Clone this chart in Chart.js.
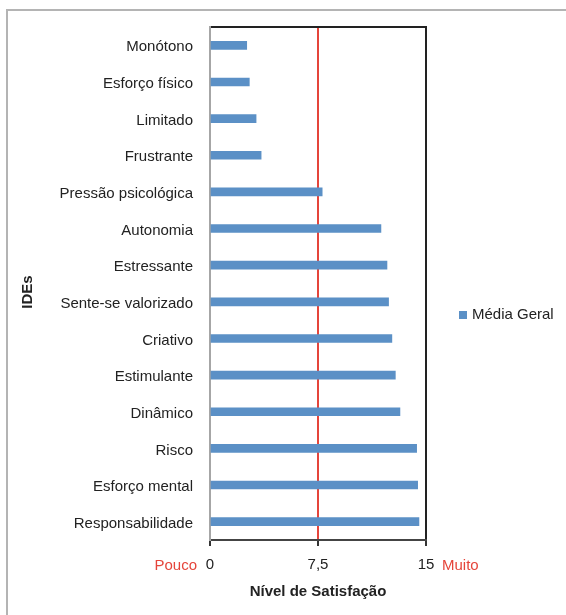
<!DOCTYPE html>
<html>
<head>
<meta charset="utf-8">
<script src="https://cdn.jsdelivr.net/npm/chart.js@4.4.1/dist/chart.umd.min.js"></script>
<style>
  html, body { margin: 0; padding: 0; background: #fff; }
  #moldura { position: absolute; left: 6px; top: 9px; width: 640px; height: 700px;
             border-left: 2px solid #b4b4b4; border-top: 2px solid #b4b4b4; }
  #caixa { position: absolute; left: 0; top: 0; width: 566px; height: 615px; }
</style>
</head>
<body>
<div id="moldura"></div>
<div id="caixa"><canvas id="grafico"></canvas></div>
<script>
// dados
const categorias = ['Monótono', 'Esforço físico', 'Limitado', 'Frustrante', 'Pressão psicológica',
  'Autonomia', 'Estressante', 'Sente-se valorizado', 'Criativo', 'Estimulante',
  'Dinâmico', 'Risco', 'Esforço mental', 'Responsabilidade'];
const mediaGeral = [2.55, 2.73, 3.2, 3.55, 7.79, 11.87, 12.29, 12.4, 12.63, 12.87, 13.19, 14.35, 14.42, 14.51];
const marcasX = [0, 7.5, 15];
const extremos = ['Pouco', 'Muito'];
const tituloY = 'IDEs';

const AZUL = '#5b90c6';
const VERMELHO = '#e5453b';
const FONTE = '"Liberation Sans", Arial, sans-serif';

// Pouco / Muito, título do eixo Y e legenda
const extras = {
  id: 'extras',
  afterDraw(chart) {
    const ctx = chart.ctx;
    const x = chart.scales.x;
    const yTxt = x.top + 26;
    ctx.save();
    ctx.font = '15px ' + FONTE;
    ctx.textBaseline = 'middle';
    ctx.fillStyle = VERMELHO;
    ctx.textAlign = 'right';
    ctx.fillText(extremos[0], x.getPixelForValue(marcasX[0]) - 13, yTxt);
    ctx.textAlign = 'left';
    ctx.fillText(extremos[1], x.getPixelForValue(marcasX[2]) + 16, yTxt);

    // legenda
    const ds = chart.data.datasets[0];
    const ly = 315;
    ctx.fillStyle = ds.backgroundColor;
    ctx.fillRect(459, ly - 4, 8, 8);
    ctx.fillStyle = '#222';
    ctx.fillText(ds.label, 472, ly);

    // IDEs
    ctx.font = 'bold 15px ' + FONTE;
    ctx.translate(28, 292);
    ctx.rotate(-Math.PI / 2);
    ctx.textAlign = 'center';
    ctx.fillText(tituloY, 0, 0);
    ctx.restore();
  }
};

new Chart(document.getElementById('grafico'), {
  type: 'bar',
  data: {
    labels: categorias,
    datasets: [{
      label: 'Média Geral',
      data: mediaGeral,
      backgroundColor: AZUL,
      barThickness: 8
    }]
  },
  options: {
    indexAxis: 'y',
    responsive: true,
    maintainAspectRatio: false,
    animation: false,
    layout: { padding: { left: 18, top: 27, right: 140, bottom: 8 } },
    plugins: { legend: { display: false }, tooltip: { enabled: false } },
    scales: {
      x: {
        min: 0, max: 15,
        afterBuildTicks: s => { s.ticks = marcasX.map(v => ({ value: v })); },
        afterFit: s => { s.height = 67; },
        grid: {
          lineWidth: 2,
          color: c => c.tick && c.tick.value === 7.5 ? VERMELHO : (c.tick && c.tick.value === 15 ? '#222' : 'rgba(0,0,0,0)'),
          tickColor: '#333',
          tickLength: 6
        },
        border: { color: '#444', width: 2 },
        ticks: {
          color: '#222', padding: 10,
          font: { family: FONTE, size: 15 },
          callback: v => String(v).replace('.', ',')
        },
        title: {
          display: true, text: 'Nível de Satisfação', color: '#222',
          font: { family: FONTE, size: 15, weight: 'bold' },
          padding: { top: 4, bottom: 6 }
        }
      },
      x2: {
        position: 'top', min: 0, max: 15,
        afterFit: s => { s.height = 0; },
        ticks: { display: false },
        grid: { display: false, drawTicks: false },
        border: { color: '#222', width: 2 }
      },
      y: {
        afterFit: s => { s.width = 192; },
        grid: { display: false, drawTicks: false },
        border: { color: '#a6a6a6', width: 2 },
        ticks: { color: '#222', padding: 17, labelOffset: 2, font: { family: FONTE, size: 15 } }
      }
    }
  },
  plugins: [extras]
});
</script>
</body>
</html>
